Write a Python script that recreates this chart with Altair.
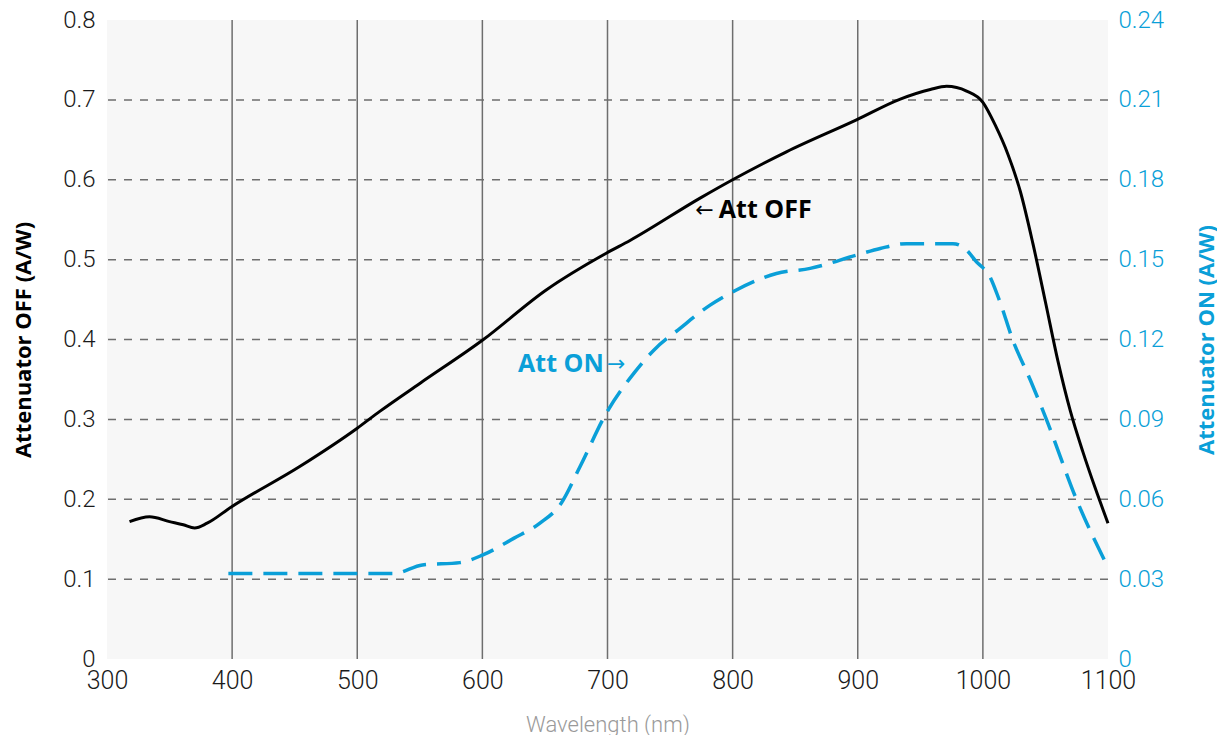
import altair as alt
import pandas as pd

# ---- data ----
off_nm = [318, 334, 350, 361, 370, 380, 399, 454, 500, 518, 550, 600, 651, 699, 718,
          774, 800, 843, 899, 934, 958, 971, 987, 1000, 1010, 1020, 1030, 1040, 1050,
          1060, 1070, 1080, 1090, 1100]
off_val = [0.172, 0.178, 0.172, 0.168, 0.164, 0.170, 0.190, 0.241, 0.289, 0.310, 0.345,
           0.399, 0.462, 0.508, 0.524, 0.577, 0.600, 0.635, 0.675, 0.701, 0.713, 0.717,
           0.711, 0.697, 0.668, 0.632, 0.585, 0.520, 0.447, 0.373, 0.310, 0.259, 0.213,
           0.170]

on_nm = [397, 450, 529, 552, 582, 600, 625, 646, 663, 678, 699, 721, 737, 758, 782, 803,
         835, 862, 899, 918, 939, 976, 987, 995, 1000, 1004, 1013, 1024, 1038, 1051,
         1075, 1099]
on_val = [0.0321, 0.0321, 0.0321, 0.0353, 0.0362, 0.0390, 0.0453, 0.0510, 0.0585, 0.0722,
          0.0923, 0.1073, 0.1160, 0.1242, 0.1329, 0.1386, 0.1448, 0.1467, 0.1517, 0.1542,
          0.1560, 0.1560, 0.1536, 0.1491, 0.1470, 0.1449, 0.1350, 0.1197, 0.1047, 0.0897,
          0.0597, 0.0353]

x_ticks = [300, 400, 500, 600, 700, 800, 900, 1000, 1100]
x_grid = [400, 500, 600, 700, 800, 900, 1000]
left_ticks = [0, 0.1, 0.2, 0.3, 0.4, 0.5, 0.6, 0.7, 0.8]
left_grid = [0.1, 0.2, 0.3, 0.4, 0.5, 0.6, 0.7]
right_ticks = [0, 0.03, 0.06, 0.09, 0.12, 0.15, 0.18, 0.21, 0.24]

off_label = ["Att OFF"]
off_label_nm = [789]
off_label_val = [0.562]
off_arrow_nm = [777.5]

on_label = ["Att ON"]
on_label_nm = [697]
on_label_val = [0.1108]
on_arrow_nm = [707]

BLUE = "#0a9fd8"
GRID = "#6e6e6e"
TICKFONT = "Roboto"
BOLDFONT = "Open Sans"

off_df = pd.DataFrame({"nm": off_nm, "v": off_val})
on_df = pd.DataFrame({"nm": on_nm, "v": on_val})

xscale = alt.Scale(domain=[300, 1100], nice=False, zero=False)
lscale = alt.Scale(domain=[0, 0.8], nice=False)
rscale = alt.Scale(domain=[0, 0.24], nice=False)

xaxis = alt.Axis(values=x_ticks, format="d", grid=False, ticks=False, domain=False,
                 labelFlush=False,
                 labelFont=TICKFONT, labelFontSize=25, labelFontWeight=300,
                 labelColor="#1a1a1a", labelPadding=9,
                 title="Wavelength (nm)", titleFont=TICKFONT, titleFontSize=22,
                 titleFontWeight=300, titleColor="#9a9a9a", titleY=65,
                 titleBaseline="middle")

laxis = alt.Axis(values=left_ticks, format="~g", grid=False, ticks=False, domain=False,
                 labelFont=TICKFONT, labelFontSize=24, labelFontWeight=300,
                 labelColor="#1a1a1a", labelPadding=12,
                 title="Attenuator OFF (A/W)", titleFont=BOLDFONT, titleFontSize=22,
                 titleFontWeight="bold", titleColor="#000000", titleAngle=270,
                 titleX=-84, titleY=319.5, titleAlign="center", titleBaseline="middle")

raxis = alt.Axis(orient="right", values=right_ticks, format="~g", grid=False, ticks=False,
                 domain=False, labelFont=TICKFONT, labelFontSize=24, labelFontWeight=300,
                 labelColor=BLUE, labelPadding=10,
                 title="Attenuator ON (A/W)", titleFont=BOLDFONT, titleFontSize=22,
                 titleFontWeight="bold", titleColor=BLUE, titleAngle=270,
                 titleX=98, titleY=319.5, titleAlign="center", titleBaseline="middle")

X = alt.X("nm:Q", scale=xscale, axis=xaxis)
YL = alt.Y("v:Q", scale=lscale, axis=laxis)
YR = alt.Y("v:Q", scale=rscale, axis=raxis)

vgrid = alt.Chart(pd.DataFrame({"nm": x_grid})).mark_rule(
    color=GRID, strokeWidth=1.5
).encode(x=X)

hgrid = alt.Chart(pd.DataFrame({"v": left_grid})).mark_rule(
    color=GRID, strokeWidth=1.5, strokeDash=[8, 8]
).encode(y=YL)

off_line = alt.Chart(off_df).mark_line(
    color="#000000", strokeWidth=3, interpolate="monotone"
).encode(x=X, y=YL)

off_text = alt.Chart(pd.DataFrame({"nm": off_label_nm, "v": off_label_val, "t": off_label})).mark_text(
    font=BOLDFONT, fontSize=25, fontWeight="bold", color="#000000", align="left", baseline="middle"
).encode(x=X, y=YL, text="t:N")

off_arrow = alt.Chart(pd.DataFrame({"nm": off_arrow_nm, "v": off_label_val, "t": ["←"]})).mark_text(
    font="DejaVu Sans", fontSize=22, color="#000000", align="center", baseline="middle"
).encode(x=X, y=YL, text="t:N")

on_line = alt.Chart(on_df).mark_line(
    color=BLUE, strokeWidth=3.5, strokeDash=[24, 11], interpolate="monotone"
).encode(x=X, y=YR)

on_text = alt.Chart(pd.DataFrame({"nm": on_label_nm, "v": on_label_val, "t": on_label})).mark_text(
    font=BOLDFONT, fontSize=25, fontWeight="bold", color=BLUE, align="right", baseline="middle"
).encode(x=X, y=YR, text="t:N")

on_arrow = alt.Chart(pd.DataFrame({"nm": on_arrow_nm, "v": on_label_val, "t": ["→"]})).mark_text(
    font="DejaVu Sans", fontSize=22, color=BLUE, align="center", baseline="middle"
).encode(x=X, y=YR, text="t:N")

left_group = alt.layer(vgrid, hgrid, off_line, off_text, off_arrow)
right_group = alt.layer(on_line, on_text, on_arrow)

chart = alt.layer(left_group, right_group).resolve_scale(y="independent").properties(
    width=1001, height=639,
    autosize=alt.AutoSizeParams(type="none"),
    padding={"left": 99, "top": 12, "right": 109, "bottom": 76},
).configure_view(fill="#f7f7f7", stroke=None)

chart.save("out.html", embed_options={"renderer": "svg", "actions": False})
